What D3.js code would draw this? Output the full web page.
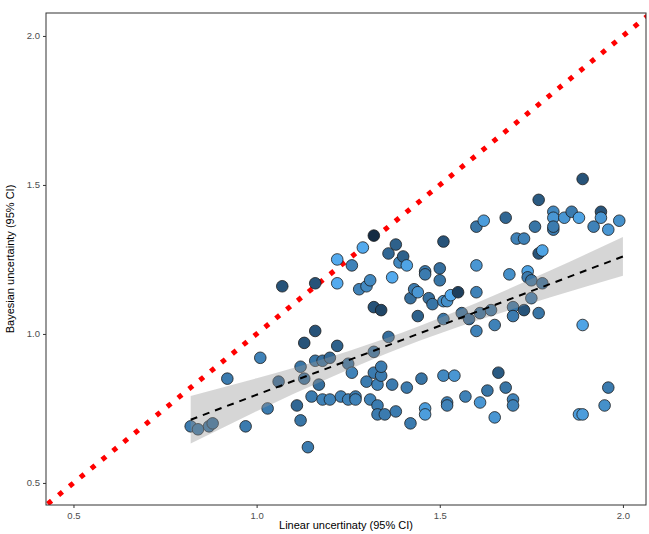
<!DOCTYPE html>
<html><head><meta charset="utf-8">
<script src="https://cdn.jsdelivr.net/npm/d3@7"></script>
<style>body{margin:0;background:#fff}text{font-family:"Liberation Sans",Arial,sans-serif}</style>
</head><body><svg width="649" height="534"></svg>
<script>
// linear uncertainty, bayesian uncertainty, colour value (0 dark .. 1 light)
const linearU = [0.82,0.84,0.87,0.88,0.92,0.97,1.01,1.03,1.06,1.07,1.11,1.12,1.12,1.13,1.14,1.13,1.15,1.16,1.16,1.16,1.17,1.18,1.18,1.20,1.20,1.22,1.22,1.22,1.23,1.25,1.25,1.26,1.26,1.27,1.27,1.28,1.29,1.30,1.30,1.31,1.31,1.32,1.32,1.32,1.32,1.33,1.33,1.33,1.34,1.34,1.34,1.35,1.36,1.36,1.37,1.37,1.38,1.38,1.39,1.40,1.41,1.41,1.42,1.42,1.43,1.44,1.44,1.45,1.46,1.46,1.46,1.46,1.47,1.48,1.50,1.50,1.51,1.51,1.51,1.51,1.52,1.52,1.52,1.53,1.54,1.55,1.56,1.57,1.58,1.60,1.60,1.60,1.60,1.61,1.61,1.62,1.63,1.64,1.65,1.65,1.66,1.68,1.68,1.69,1.70,1.70,1.70,1.70,1.71,1.73,1.73,1.74,1.74,1.75,1.75,1.76,1.77,1.77,1.77,1.78,1.78,1.81,1.81,1.81,1.81,1.84,1.86,1.88,1.88,1.89,1.89,1.89,1.92,1.94,1.94,1.95,1.96,1.96,1.99];
const bayesU = [0.69,0.68,0.69,0.70,0.85,0.69,0.92,0.75,0.84,1.16,0.76,0.71,0.89,0.97,0.62,0.85,0.79,1.01,1.17,0.91,0.83,0.91,0.78,0.92,0.78,0.96,1.17,1.25,0.79,0.78,0.90,1.23,0.87,0.79,0.78,1.15,1.29,0.84,1.16,1.18,0.78,0.94,0.87,1.09,1.33,0.76,0.73,0.83,1.08,0.86,0.89,0.73,1.27,0.99,1.19,0.83,1.30,0.74,1.24,1.26,1.23,0.82,1.12,0.70,1.15,1.14,1.06,0.85,1.21,1.20,0.75,0.73,1.12,1.10,1.22,1.18,0.86,1.31,1.11,1.05,1.11,0.77,0.76,1.13,0.86,1.14,1.07,0.79,1.05,1.14,1.01,1.36,1.23,1.07,0.77,1.38,0.81,1.08,0.72,1.03,0.87,0.82,1.39,1.20,1.09,1.06,0.78,0.76,1.32,1.32,1.08,1.21,1.19,1.12,1.18,1.36,1.07,1.27,1.45,1.17,1.28,1.41,1.39,1.35,1.36,1.39,1.41,0.73,1.39,1.52,0.73,1.03,1.36,1.41,1.39,0.76,1.35,0.82,1.38];
const shade = [0.6,0.55,0.55,0.5,0.6,0.6,0.65,0.6,0.45,0.3,0.45,0.55,0.55,0.3,0.6,0.5,0.6,0.3,0.3,0.55,0.5,0.5,0.65,0.45,0.65,0.4,0.95,0.95,0.65,0.65,0.5,0.65,0.65,0.6,0.65,0.65,0.95,0.6,0.7,0.7,0.65,0.5,0.6,0.3,0.0,0.6,0.6,0.65,0.2,0.6,0.6,0.6,0.45,0.5,0.95,0.6,0.4,0.6,0.7,0.4,0.9,0.6,0.5,0.6,0.6,0.8,0.4,0.55,0.6,0.6,0.85,0.85,0.5,0.55,0.5,0.55,0.7,0.3,0.75,0.55,0.75,0.65,0.65,0.95,0.8,0.15,0.5,0.65,0.45,0.65,0.65,0.55,0.8,0.5,0.8,0.85,0.55,0.55,0.8,0.65,0.35,0.55,0.45,0.75,0.55,0.6,0.65,0.65,0.65,0.65,0.3,0.9,0.6,0.6,0.55,0.55,0.55,0.3,0.35,0.5,0.9,0.7,0.8,0.6,0.6,0.8,0.6,0.85,0.9,0.3,0.85,0.9,0.65,0.3,0.8,0.75,0.8,0.6,0.75];

// regression fit with confidence band
const fitX = [0.82,1.0,1.2,1.4,1.6,1.8,2.0];
const fitY = [0.712,0.796,0.888,0.981,1.074,1.167,1.26];
const fitHalf = [0.08,0.055,0.035,0.025,0.03,0.045,0.065];

const xTicks = [0.5,1.0,1.5,2.0];
const yTicks = [0.5,1.0,1.5,2.0];

const svg = d3.select('svg');
const m = {l:46, r:3, t:13, b:29};
const W = 649, H = 534;
const x = d3.scaleLinear().domain([0.425,2.063]).range([m.l, W-m.r]);
const y = d3.scaleLinear().domain([0.426,2.077]).range([H-m.b, m.t]);
const col = d3.interpolateRgb('#132B43','#56B1F7');

svg.append('clipPath').attr('id','clip').append('rect')
  .attr('x',m.l).attr('y',m.t).attr('width',W-m.l-m.r).attr('height',H-m.t-m.b);

const g = svg.append('g').attr('clip-path','url(#clip)');

// identity line
g.append('line')
  .attr('x1',x(0.4)).attr('y1',y(0.4)).attr('x2',x(2.1)).attr('y2',y(2.1))
  .attr('stroke','#ff0000').attr('stroke-width',5).attr('stroke-dasharray','5,9');

const pts = linearU.map((d,i) => ({x:d, y:bayesU[i], c:shade[i]}));
g.selectAll('circle').data(pts).join('circle')
  .attr('cx',d=>x(d.x)).attr('cy',d=>y(d.y)).attr('r',5.8)
  .attr('fill',d=>col(d.c)).attr('stroke','#1a1a1a').attr('stroke-width',0.8);

const band = fitX.map((d,i)=>({x:d, lo:fitY[i]-fitHalf[i], hi:fitY[i]+fitHalf[i], f:fitY[i]}));
g.append('path').datum(band)
  .attr('d', d3.area().curve(d3.curveMonotoneX).x(d=>x(d.x)).y0(d=>y(d.lo)).y1(d=>y(d.hi)))
  .attr('fill','#999').attr('fill-opacity',0.4);
g.append('path').datum(band)
  .attr('d', d3.line().x(d=>x(d.x)).y(d=>y(d.f)))
  .attr('fill','none').attr('stroke','#000').attr('stroke-width',2).attr('stroke-dasharray','7,6');

// frame
svg.append('rect').attr('x',m.l).attr('y',m.t).attr('width',W-m.l-m.r).attr('height',H-m.t-m.b)
  .attr('fill','none').attr('stroke','#333').attr('stroke-width',1);

const xa = svg.append('g').attr('transform',`translate(0,${H-m.b})`)
  .call(d3.axisBottom(x).tickValues(xTicks).tickFormat(d3.format('.1f')).tickSizeOuter(0).tickSize(3));
const ya = svg.append('g').attr('transform',`translate(${m.l},0)`)
  .call(d3.axisLeft(y).tickValues(yTicks).tickFormat(d3.format('.1f')).tickSizeOuter(0).tickSize(3));
[xa,ya].forEach(a=>{
  a.select('.domain').remove();
  a.selectAll('line').attr('stroke','#333');
  a.selectAll('text').attr('fill','#4d4d4d').style('font-size','9.5px');
});
xa.selectAll('text').attr('dy','0.8em');

svg.append('text').attr('x',(m.l+W-m.r)/2).attr('y',H-5).attr('text-anchor','middle')
  .style('font-size','11px').text('Linear uncertinaty (95% CI)');
svg.append('text').attr('transform',`translate(14,${(m.t+H-m.b)/2}) rotate(-90)`)
  .attr('text-anchor','middle').style('font-size','11px').text('Bayesian uncertainty (95% CI)');
</script></body></html>
